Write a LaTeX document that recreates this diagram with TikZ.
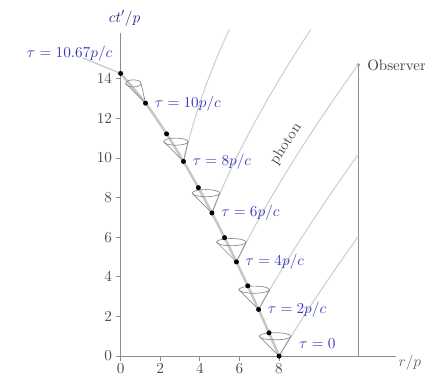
\documentclass[tikz,border=0pt]{standalone}
\usepackage{amsmath}
\definecolor{labblue}{RGB}{60,60,190}
\begin{document}
\begin{tikzpicture}[x=0.5cm,y=0.5cm,
  every node/.style={font=\fontsize{10.8}{13}\selectfont},
  axis/.style={black!45, line width=0.6pt},
  ray/.style={black!18, line width=0.8pt},
  wl/.style={black!22, line width=1.8pt},
  conestyle/.style={black!45, line width=0.5pt},
  lbl/.style={text=labblue, inner sep=1.5pt},
  ticklbl/.style={text=black!70, inner sep=1pt},
  ev/.style={circle, fill=black, inner sep=0pt, minimum size=3.6pt}]
\useasboundingbox (-6.09,-1.26) rectangle (15.37,17.98);

% axes
\coordinate (O) at (0,0);
\coordinate (xend) at (13.9,0);
\coordinate (yend) at (0,16.3);
\draw[axis] (O) -- (xend);
\draw[axis] (O) -- (yend);
\node[text=black!60, anchor=west, inner sep=1pt] (xl) at (13.95,-0.35) {$r/p$};
\node[text=labblue!70!black] (yl) at (0.2,17.05) {$ct'/p$};
\foreach \v in {0,2,4,6,8} {
  \draw[axis] (\v,0) -- (\v,-0.25);
  \node[ticklbl, below] at (\v,-0.3) {$\v$};
}
\foreach \v in {0,2,4,6,8,10,12,14} {
  \draw[axis] (0,\v) -- (-0.25,\v);
  \node[ticklbl, left] at (-0.35,\v) {$\v$};
}

% observer
\coordinate (obsb) at (12,0);
\coordinate (obst) at (12,14.7);
\draw[axis] (obsb) -- (obst);
\fill[black!50] (obst) circle (0.09);
\node[anchor=west, text=black!75, inner sep=2pt] (obsl) at (12.3,14.7) {Observer};

% photons (outgoing null rays in EF coordinates)
\draw[ray] plot[domain=8:12, samples=30] (\x,{0+\x-8+4*ln((\x-2)/6)});
\draw[ray] plot[domain=6.967:12, samples=30] (\x,{2.353+\x-6.967+4*ln((\x-2)/4.967)});
\draw[ray] plot[domain=5.848:12, samples=30] (\x,{4.754+\x-5.848+4*ln((\x-2)/3.848)});
\draw[ray] plot[domain=4.611:9.61, samples=30] (\x,{7.227+\x-4.611+4*ln((\x-2)/2.611)});
\draw[ray] plot[domain=3.175:5.49, samples=30] (\x,{9.827+\x-3.175+4*ln((\x-2)/1.175)});
\node[text=black!70, rotate=57, inner sep=0pt] (ph) at (8.35,10.7) {photon};

% world line
\draw[wl] plot[smooth] coordinates {(8,0) (7.492,1.172) (6.967,2.353) (6.420,3.546)
  (5.848,4.754) (5.247,5.980) (4.611,7.227) (3.926,8.505) (3.175,9.827)
  (2.321,11.221) (1.260,12.768) (0,14.273)};

% light cones (height 1)
\foreach \r/\t in {8/0, 6.967/2.353, 5.848/4.754, 4.611/7.227, 3.175/9.827, 1.260/12.768} {
  \pgfmathsetmacro{\rl}{\r-1}
  \pgfmathsetmacro{\rr}{\r+(\r-2)/(\r+2)}
  \pgfmathsetmacro{\rc}{(\rl+\rr)/2}
  \pgfmathsetmacro{\rw}{abs(\rr-\rl)/2}
  \draw[conestyle] (\rl,\t+1) -- (\r,\t) -- (\rr,\t+1);
  \draw[conestyle] (\rc,\t+1) ellipse ({\rw} and 0.18);
}

% events
\node[ev] (e0) at (8,0) {};
\node[ev] (e1) at (7.492,1.172) {};
\node[ev] (e2) at (6.967,2.353) {};
\node[ev] (e3) at (6.420,3.546) {};
\node[ev] (e4) at (5.848,4.754) {};
\node[ev] (e5) at (5.247,5.980) {};
\node[ev] (e6) at (4.611,7.227) {};
\node[ev] (e7) at (3.926,8.505) {};
\node[ev] (e8) at (3.175,9.827) {};
\node[ev] (e9) at (2.321,11.221) {};
\node[ev] (e10) at (1.260,12.768) {};
\node[ev] (e11) at (0,14.273) {};

% labels
\node[lbl, anchor=west] (l0) at (8.9,0.65) {$\tau=0$};
\node[lbl, anchor=west] (l2) at ([xshift=3pt]e2.east) {$\tau=2p/c$};
\node[lbl, anchor=west] (l4) at ([xshift=3pt]e4.east) {$\tau=4p/c$};
\node[lbl, anchor=west] (l6) at ([xshift=3pt]e6.east) {$\tau=6p/c$};
\node[lbl, anchor=west] (l8) at ([xshift=3pt]e8.east) {$\tau=8p/c$};
\node[lbl, anchor=west] (l10) at ([xshift=3pt]e10.east) {$\tau=10p/c$};
\node[lbl, anchor=south east] (l11) at (-0.3,14.75) {$\tau=10.67p/c$};
\coordinate (lead) at (-1.9,15.05);
\draw[black!20, line width=1pt] (e11) -- (lead);
\end{tikzpicture}
\end{document}
